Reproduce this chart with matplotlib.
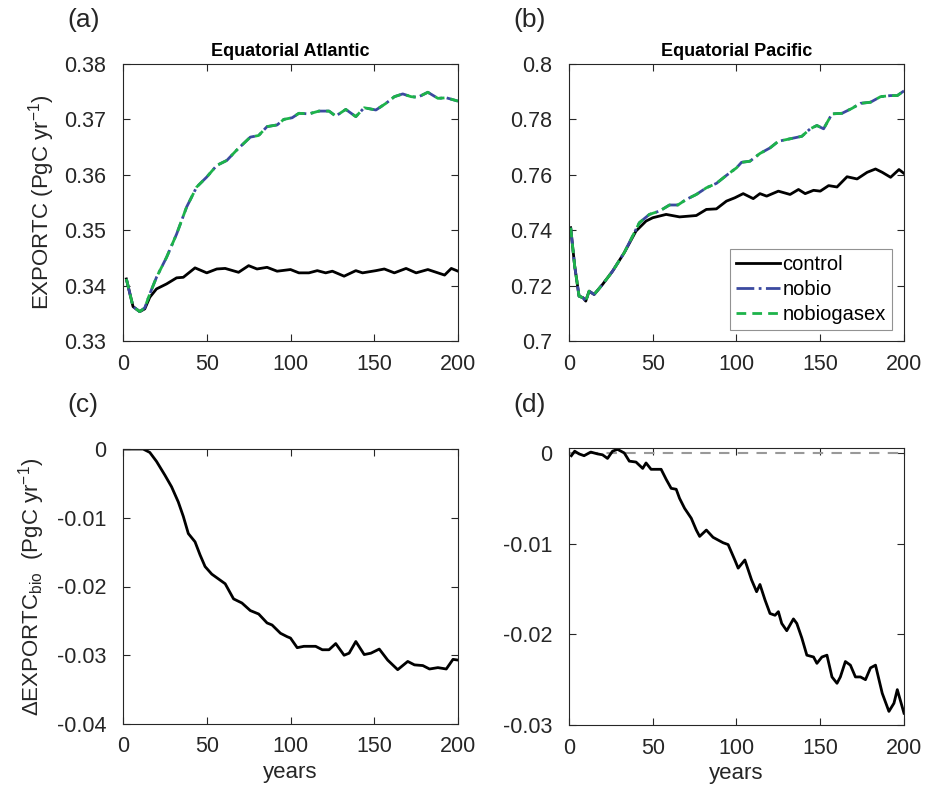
import matplotlib
matplotlib.use("Agg")
import matplotlib.pyplot as plt
import numpy as np

plt.rcParams['font.family'] = ['Liberation Sans', 'DejaVu Sans']
plt.rcParams['mathtext.fontset'] = 'custom'
plt.rcParams['mathtext.rm'] = 'Liberation Sans'
plt.rcParams['mathtext.it'] = 'Liberation Sans:italic'

# --- data ---
# (a) Equatorial Atlantic
atl_ctrl_x = [2, 6, 10, 13, 16, 20, 26, 32, 36, 43, 50, 56, 61, 69, 75, 80, 86, 92, 100, 105,
              111, 116, 121, 125, 132, 139, 143, 151, 156, 162, 169, 175, 182, 187, 192, 196, 200]
atl_ctrl_y = [0.3412, 0.3362, 0.3353, 0.3358, 0.3379, 0.3394, 0.3403, 0.3414, 0.3415, 0.3432,
              0.3423, 0.3430, 0.3431, 0.3424, 0.3436, 0.3430, 0.3433, 0.3426, 0.3429, 0.3423,
              0.3423, 0.3427, 0.3423, 0.3426, 0.3417, 0.3427, 0.3423, 0.3427, 0.3430, 0.3423,
              0.3431, 0.3423, 0.3429, 0.3424, 0.3419, 0.3431, 0.3426]
atl_nobio_x = [2, 6, 10, 13, 16, 20, 26, 32, 38, 44, 50, 56, 62, 68, 76, 81, 86, 92, 96, 101,
               105, 111, 117, 123, 127, 133, 139, 144, 151, 157, 162, 167, 172, 176, 182, 188,
               193, 200]
atl_nobio_y = [0.3412, 0.3362, 0.3353, 0.3360, 0.3385, 0.3415, 0.3451, 0.3493, 0.3542, 0.3578,
               0.3596, 0.3617, 0.3626, 0.3645, 0.3668, 0.3671, 0.3687, 0.3690, 0.3700, 0.3703,
               0.3711, 0.3710, 0.3715, 0.3715, 0.3706, 0.3718, 0.3705, 0.3721, 0.3717, 0.3729,
               0.3741, 0.3746, 0.3741, 0.3740, 0.3749, 0.3738, 0.3739, 0.3733]
atl_gasex_y = atl_nobio_y

# (b) Equatorial Pacific
pac_ctrl_x = [1, 3.4, 6, 8.4, 10, 12, 15, 20, 26, 33, 40, 46, 50, 58, 66, 76, 82, 88, 94, 99,
              104, 110, 114, 118, 125, 132, 137, 141, 146, 150, 155, 160, 166, 172, 178, 183,
              187, 192, 197, 200]
pac_ctrl_y = [0.7409, 0.7270, 0.7162, 0.7156, 0.7144, 0.7180, 0.7168, 0.7204, 0.7252, 0.7319,
              0.7397, 0.7433, 0.7445, 0.7457, 0.7448, 0.7453, 0.7475, 0.7477, 0.7505, 0.7517,
              0.7532, 0.7514, 0.7532, 0.7523, 0.7541, 0.7529, 0.7547, 0.7532, 0.7544, 0.7541,
              0.7561, 0.7556, 0.7593, 0.7585, 0.7609, 0.7621, 0.7609, 0.7591, 0.7619, 0.7605]
pac_nobio_x = [1, 3.4, 6, 8.4, 10, 12, 15, 20, 26, 33, 42, 48, 54, 60, 65, 70, 76, 82, 88, 94,
               100, 103, 108, 114, 120, 125, 132, 139, 144, 148, 152, 157, 163, 169, 174, 180,
               186, 192, 196, 200]
pac_nobio_y = [0.7409, 0.7270, 0.7162, 0.7156, 0.7144, 0.7180, 0.7168, 0.7204, 0.7252, 0.7319,
               0.7427, 0.7457, 0.7469, 0.7491, 0.7491, 0.7511, 0.7529, 0.7553, 0.7569, 0.7598,
               0.7625, 0.7645, 0.7649, 0.7677, 0.7697, 0.7721, 0.7730, 0.7739, 0.7766, 0.7778,
               0.7766, 0.7820, 0.7822, 0.7840, 0.7858, 0.7862, 0.7882, 0.7886, 0.7886, 0.7903]
pac_gasex_y = pac_nobio_y

# (c) difference, Atlantic
atl_diff_x = [0, 12, 16, 20, 25, 29, 33, 36, 39, 43, 46, 49, 53, 57, 61, 66, 71, 76, 81, 86, 89,
              94, 98, 100, 104, 108, 115, 119, 123, 127, 132, 135, 139, 144, 148, 153, 158, 164,
              170, 174, 179, 183, 188, 193, 197, 200]
atl_diff_y = [0.0, 0.0, -0.0005, -0.0018, -0.0038, -0.0055, -0.0077, -0.0098, -0.0123, -0.0135,
              -0.0154, -0.0171, -0.0182, -0.0189, -0.0196, -0.0218, -0.0224, -0.0235, -0.0240,
              -0.0253, -0.0256, -0.0268, -0.0273, -0.0275, -0.0289, -0.0287, -0.0287, -0.0292,
              -0.0292, -0.0283, -0.0300, -0.0297, -0.0280, -0.0299, -0.0297, -0.0291, -0.0307,
              -0.0321, -0.0309, -0.0314, -0.0315, -0.0320, -0.0318, -0.0320, -0.0306, -0.0307]

# (d) difference, Pacific
pac_diff_x = [1.4, 3.4, 6, 9, 13, 17, 20, 23, 26, 29, 31, 33, 36, 40, 44, 46, 49, 52, 55, 58,
              61, 64, 66, 69, 73, 76, 78, 82, 86, 89, 92, 95, 99, 101, 105, 109, 112, 114, 117,
              120, 123, 125, 127, 130, 134, 136, 139, 142, 146, 148, 151, 154, 157, 160, 162,
              165, 168, 171, 174, 177, 180, 183, 187, 191, 194, 196, 200]
pac_diff_y = [-0.0003, 0.0002, -0.0001, -0.0003, 0.0001, -0.0001, -0.0002, -0.0006, 0.0002,
              0.0004, 0.0002, 0.0, -0.0009, -0.0010, -0.0017, -0.0011, -0.0018, -0.0018,
              -0.0018, -0.0029, -0.0039, -0.0040, -0.0050, -0.0061, -0.0072, -0.0085, -0.0092,
              -0.0085, -0.0093, -0.0096, -0.0099, -0.0101, -0.0118, -0.0127, -0.0118, -0.0140,
              -0.0153, -0.0145, -0.0162, -0.0177, -0.0179, -0.0175, -0.0188, -0.0196, -0.0183,
              -0.0188, -0.0204, -0.0223, -0.0225, -0.0232, -0.0225, -0.0223, -0.0247, -0.0254,
              -0.0247, -0.0230, -0.0234, -0.0247, -0.0247, -0.0250, -0.0237, -0.0234, -0.0265,
              -0.0285, -0.0276, -0.0261, -0.0287]

TXT = '#262626'
BLUE = '#3b4aa0'
GREEN = '#1db34a'

fig = plt.figure(figsize=(9.29, 7.88), dpi=100)
W, H = 929, 788


def add_ax(l, t, r, b):
    return fig.add_axes([l / W, 1 - b / H, (r - l) / W, (b - t) / H])


def style(ax, ylim, yticks, yticklabels):
    ax.set_xlim(0, 200)
    ax.set_xticks([0, 50, 100, 150, 200])
    ax.set_ylim(*ylim)
    ax.set_yticks(yticks)
    ax.set_yticklabels(yticklabels)
    ax.tick_params(direction='in', top=True, right=True, length=5, width=0.8,
                   labelsize=15.5, colors=TXT)
    ax.tick_params(axis='y', pad=12)
    ax.tick_params(axis='x', pad=9)
    for s in ax.spines.values():
        s.set_linewidth(0.8)
        s.set_color(TXT)


ax_a = add_ax(123, 64, 458, 341)
ax_b = add_ax(569, 64, 904, 341)
ax_c = add_ax(123, 449, 458, 724)
ax_d = add_ax(569, 448, 904, 725)

# (a)
ax_a.plot(atl_ctrl_x, atl_ctrl_y, color='black', lw=2.0, label='control')
ax_a.plot(atl_nobio_x, atl_nobio_y, color=BLUE, lw=2.0, ls='-.', label='nobio')
ax_a.plot(atl_nobio_x, atl_gasex_y, color=GREEN, lw=2.0, ls=(0, (3.5, 2.2)), label='nobiogasex')
style(ax_a, (0.33, 0.38), [0.33, 0.34, 0.35, 0.36, 0.37, 0.38],
      ['0.33', '0.34', '0.35', '0.36', '0.37', '0.38'])
ax_a.set_title('Equatorial Atlantic', fontsize=13, fontweight='bold', pad=6)
ax_a.set_ylabel('EXPORTC (PgC yr$^{-1}$)', fontsize=16, color=TXT, labelpad=5)

# (b)
ax_b.plot(pac_ctrl_x, pac_ctrl_y, color='black', lw=2.0, label='control')
ax_b.plot(pac_nobio_x, pac_nobio_y, color=BLUE, lw=2.0, ls='-.', label='nobio')
ax_b.plot(pac_nobio_x, pac_gasex_y, color=GREEN, lw=2.0, ls=(0, (3.5, 2.2)), label='nobiogasex')
style(ax_b, (0.7, 0.8), [0.7, 0.72, 0.74, 0.76, 0.78, 0.8],
      ['0.7', '0.72', '0.74', '0.76', '0.78', '0.8'])
ax_b.set_title('Equatorial Pacific', fontsize=13, fontweight='bold', pad=6)
leg = ax_b.legend(loc='lower right', bbox_to_anchor=(0.964, 0.04), fontsize=14.5,
                  frameon=True, fancybox=False, handlelength=2.15, handletextpad=0.15,
                  borderpad=0.3, labelspacing=0.3, borderaxespad=0)
leg.get_frame().set_edgecolor('#777777')
leg.get_frame().set_linewidth(0.8)

# (c)
ax_c.axhline(0, color='#888888', lw=1.2, ls=(0, (5, 4)))
ax_c.plot(atl_diff_x, atl_diff_y, color='black', lw=2.0)
style(ax_c, (-0.04, 0.0), [-0.04, -0.03, -0.02, -0.01, 0],
      ['-0.04', '-0.03', '-0.02', '-0.01', '0'])
ax_c.set_ylabel(r'$\Delta$EXPORTC$_{\rm bio}$  (PgC yr$^{-1}$)', fontsize=16, color=TXT,
                labelpad=7)
ax_c.set_xlabel('years', fontsize=16, color=TXT, labelpad=3)

# (d)
ax_d.axhline(0, color='#999999', lw=1.5, ls=(0, (5, 4)))
ax_d.plot(pac_diff_x, pac_diff_y, color='black', lw=2.0)
style(ax_d, (-0.03, 0.00055), [-0.03, -0.02, -0.01, 0],
      ['-0.03', '-0.02', '-0.01', '0'])
ax_d.set_xlabel('years', fontsize=16, color=TXT, labelpad=3)

# panel labels
for lab, x, y in [('(a)', 67, 20), ('(b)', 513, 20), ('(c)', 67, 405), ('(d)', 513, 405)]:
    fig.text(x / W, 1 - y / H, lab, fontsize=19, color=TXT, va='center', ha='left')

fig.savefig('out.png', dpi=100)
